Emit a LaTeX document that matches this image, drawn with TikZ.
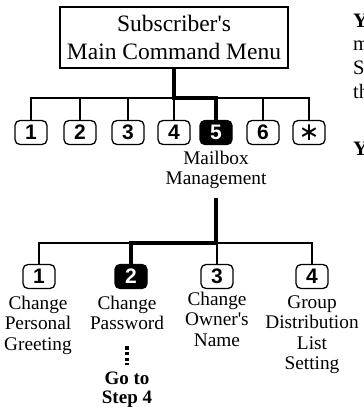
\documentclass[tikz,border=0pt]{standalone}
\usepackage{fontspec}
\setmainfont{Liberation Serif}
\newfontfamily\keyfont{Liberation Sans}
\newfontfamily\symfont{DejaVu Sans}
\begin{document}
\begin{tikzpicture}[x=1pt,y=-1pt,
  keybox/.style={draw,line width=1.3pt,rounded corners=5pt,minimum width=32pt,minimum height=24pt,inner sep=0pt,font=\keyfont\bfseries\fontsize{21}{21}\selectfont},
  keysel/.style={keybox,fill=black,text=white},
  lbl/.style={align=center,inner sep=0pt,font=\fontsize{19.3}{20.5}\selectfont},
  bus/.style={line width=1.2pt},
  route/.style={line width=4.5pt},
  frag/.style={anchor=base west,inner sep=0pt,font=\fontsize{20.5}{20.5}\selectfont},
]
\useasboundingbox (0,0) rectangle (364,407);

% main menu box
\node[draw,line width=1.2pt,minimum width=228pt,minimum height=61pt,inner sep=0pt,align=center,
  font=\fontsize{23.5}{28}\selectfont] (menu) at (174,37.5) {Subscriber\textquotesingle s\\Main Command Menu};

% upper keys
\node[keybox] (k1) at (31,132.5) {1};
\node[keybox] (k2) at (80,132.5) {2};
\node[keybox] (k3) at (128,132.5) {3};
\node[keybox] (k4) at (174,132.5) {4};
\node[keysel] (k5) at (216,132.5) {5};
\node[keybox] (k6) at (263,132.5) {6};
\node[keybox,font=\symfont\fontsize{25}{25}\selectfont] (k7) at (309,132.5) {∗};
\coordinate (ubus) at (0,98);

\draw[bus] (k1.north) -- (k1.north |- ubus) -- (k7.north |- ubus) -- (k7.north);
\foreach \k in {k2,k3,k4,k6} \draw[bus] (\k.north) -- (\k.north |- ubus);
\draw[route] (menu.south) -- (menu.south |- ubus) -- (k5.north |- ubus) -- (k5.north);

\node[lbl] (mm) at (216,170) {Mailbox\\Management};
\coordinate (mmfoot) at (216,198);

% lower keys
\node[keybox] (l1) at (39,276.5) {1};
\node[keysel] (l2) at (131,276.5) {2};
\node[keybox] (l3) at (217,276.5) {3};
\node[keybox] (l4) at (312,276.5) {4};
\coordinate (lbus) at (0,243);

\draw[bus] (l1.north) -- (l1.north |- lbus) -- (l4.north |- lbus) -- (l4.north);
\draw[bus] (l3.north) -- (l3.north |- lbus);
\draw[route] (mmfoot) -- (mmfoot |- lbus) -- (l2.north |- lbus) -- (l2.north);

% lower labels
\node[lbl,anchor=north] (t1) at (38,295.5) {Change\\Personal\\Greeting};
\node[lbl,anchor=north] (t2) at (127,295.5) {Change\\Password};
\node[lbl,anchor=north] (t3) at (217,291.5) {Change\\Owner\textquotesingle s\\Name};
\node[lbl,anchor=north] (t4) at (312,295.5) {Group\\Distribution\\List\\Setting};
\node[lbl,anchor=north,font=\bfseries\fontsize{19}{19.5}\selectfont] (go) at (127,371.5) {Go to\\Step 4};
\draw[line width=3.5pt,dash pattern=on 3.3pt off 2.3pt,shorten <=16.5pt,shorten >=6.5pt] (t2.south) -- (go.north);

% cut-off text at the right edge
\node[frag,font=\bfseries\fontsize{20.5}{20.5}\selectfont] (f1) at (353,27) {Y};
\node[frag] (f2) at (353,50) {m};
\node[frag] (f3) at (353,74) {S};
\node[frag] (f4) at (353,98) {th};
\node[frag,font=\bfseries\fontsize{20.5}{20.5}\selectfont] (f5) at (353,155) {Y};
\end{tikzpicture}
\end{document}
